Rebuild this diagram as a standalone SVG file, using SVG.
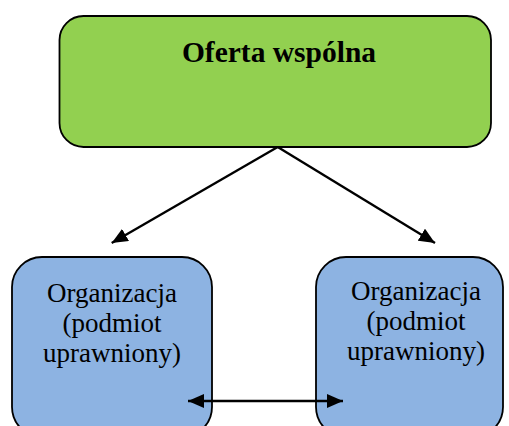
<svg xmlns="http://www.w3.org/2000/svg" width="509" height="426" viewBox="0 0 509 426">
<style>
.box{stroke:#000;stroke-width:1.8}
.green{fill:#92D050}
.blue{fill:#8DB3E2}
.title{font-family:"Liberation Serif","Times New Roman",serif;font-weight:bold;font-size:29.5px;text-anchor:middle;fill:#000}
.lbl{font-family:"Liberation Serif","Times New Roman",serif;font-size:27px;text-anchor:middle;fill:#000}
.conn{stroke:#000;stroke-width:2.4;fill:none}
</style>
<defs>
<marker id="ah" viewBox="0 0 16 14" refX="16" refY="7" markerWidth="16" markerHeight="14" markerUnits="userSpaceOnUse" orient="auto-start-reverse">
<path d="M0,0 L16,7 L0,14 Z" fill="#000"/>
</marker>
</defs>
<g id="node-oferta">
<rect class="box green" x="59.5" y="16" width="431.5" height="131" rx="24" ry="24"/>
<text class="title" x="279" y="62">Oferta wspólna</text>
</g>
<g id="node-org1">
<rect class="box blue" x="12" y="257" width="200" height="180" rx="30" ry="30"/>
<text class="lbl" x="112" y="302">Organizacja</text>
<text class="lbl" x="112" y="332">(podmiot</text>
<text class="lbl" x="112" y="362">uprawniony)</text>
</g>
<g id="node-org2">
<rect class="box blue" x="316" y="257" width="187" height="180" rx="30" ry="30"/>
<text class="lbl" x="416" y="300">Organizacja</text>
<text class="lbl" x="416" y="330">(podmiot</text>
<text class="lbl" x="416" y="360">uprawniony)</text>
</g>
<g id="connectors">
<line class="conn" x1="277.7" y1="147" x2="111.7" y2="243" marker-end="url(#ah)"/>
<line class="conn" x1="277.7" y1="147" x2="435" y2="243" marker-end="url(#ah)"/>
<line class="conn" x1="188" y1="401" x2="343" y2="401" marker-start="url(#ah)" marker-end="url(#ah)"/>
</g>
</svg>
